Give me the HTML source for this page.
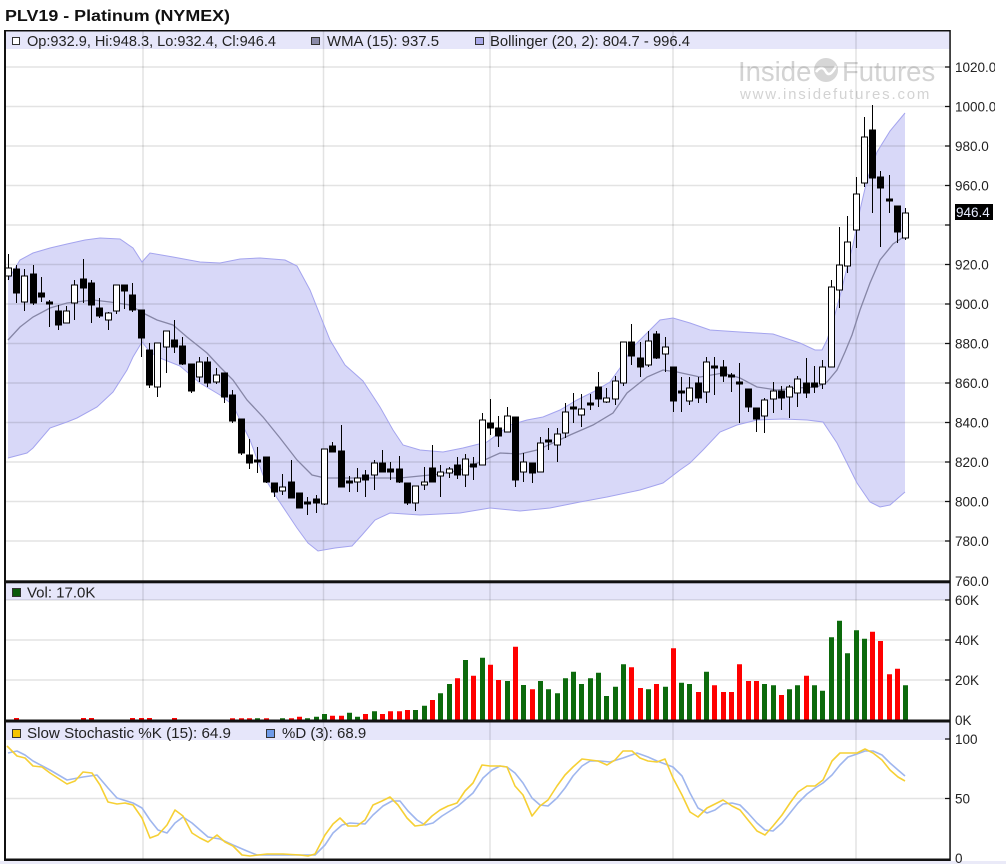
<!DOCTYPE html>
<html><head><meta charset="utf-8">
<style>
html,body{margin:0;padding:0;background:#fff;}
svg{display:block;font-family:"Liberation Sans",Arial,sans-serif;}
</style></head><body>
<svg width="1006" height="864" viewBox="0 0 1006 864" xmlns="http://www.w3.org/2000/svg">
<defs>
<clipPath id="lab"><rect x="940" y="0" width="55" height="864"/></clipPath>
</defs>
<rect width="1006" height="864" fill="#fff"/>
<text x="5" y="21" font-size="16" font-weight="bold" fill="#111" textLength="225" lengthAdjust="spacingAndGlyphs">PLV19 - Platinum (NYMEX)</text>

<!-- legend bands -->
<rect x="5" y="31" width="945" height="18" fill="#e6e6fa"/>
<rect x="5" y="583" width="945" height="17" fill="#e6e6fa"/>
<rect x="5" y="722" width="945" height="18" fill="#e6e6fa"/>
<rect x="0" y="861" width="1006" height="3" fill="#eaeaf8"/>

<!-- watermark -->
<g fill="#d3d3d3">
<text x="738" y="81" font-size="27.5">Inside</text>
<circle cx="826" cy="70" r="12" fill="#d6d6d6"/>
<path d="M816 72 Q822 64 826 72 Q830 78 836 66" stroke="#fff" stroke-width="2.5" fill="none"/>
<text x="842" y="81" font-size="27.5">Futures</text>
<text x="740" y="99" font-size="15" letter-spacing="1.8">www.insidefutures.com</text>
</g>

<!-- bollinger band -->
<polygon fill="#d8d8f8" points="8,280 20,260 33,253 50,248 67,244 85,240 100,238 120,239 133,248 142,262 150,253 173,257 200,262 220,263 240,259 260,258 285,260 297,266 310,290 330,340 345,365 363,381 380,407 393,430 403,445 420,450 443,452 463,448 487,442 510,425 527,420 543,417 560,410 577,400 593,392 610,382 620,368 633,347 647,333 660,320 673,318 690,323 710,330 740,332 773,334 800,343 815,350 822,350 827,340 832,325 840,296 847,268 853,245 860,210 867,180 877,152 890,131 905,113 905,492 890,505 880,507 870,502 857,483 847,463 837,443 823,422 807,420 783,419 757,420 737,425 720,432 703,450 690,463 680,470 663,483 640,490 607,497 580,502 550,508 520,511 490,508 460,513 420,515 390,513 375,520 362,535 352,546 335,548 318,551 308,543 297,528 287,513 275,495 263,475 250,440 240,420 233,405 220,395 200,383 180,366 160,358 150,352 142,342 133,357 127,370 113,392 97,407 77,418 67,422 50,428 33,448 27,453 8,458"/>

<!-- grid -->
<g stroke="#000" stroke-opacity="0.11" stroke-width="1.5" fill="none">
<path d="M5 67H950M5 106.5H950M5 146H950M5 185.5H950M5 225H950M5 264.5H950M5 304H950M5 343.5H950M5 383H950M5 422.5H950M5 462H950M5 501.5H950M5 541H950"/>
<path d="M5 640H950M5 680H950M5 600H950M5 798.5H950"/>
<path d="M143 31V859M323.5 31V859M490 31V859M673 31V859M856 31V859"/>
</g>

<!-- band edges -->
<polyline fill="none" stroke="#a4a4ee" stroke-width="1" points="8,280 20,260 33,253 50,248 67,244 85,240 100,238 120,239 133,248 142,262 150,253 173,257 200,262 220,263 240,259 260,258 285,260 297,266 310,290 330,340 345,365 363,381 380,407 393,430 403,445 420,450 443,452 463,448 487,442 510,425 527,420 543,417 560,410 577,400 593,392 610,382 620,368 633,347 647,333 660,320 673,318 690,323 710,330 740,332 773,334 800,343 815,350 822,350 827,340 832,325 840,296 847,268 853,245 860,210 867,180 877,152 890,131 905,113"/>
<polyline fill="none" stroke="#a4a4ee" stroke-width="1" points="905,492 890,505 880,507 870,502 857,483 847,463 837,443 823,422 807,420 783,419 757,420 737,425 720,432 703,450 690,463 680,470 663,483 640,490 607,497 580,502 550,508 520,511 490,508 460,513 420,515 390,513 375,520 362,535 352,546 335,548 318,551 308,543 297,528 287,513 275,495 263,475 250,440 240,420 233,405 220,395 200,383 180,366 160,358 150,352 142,342 133,357 127,370 113,392 97,407 77,418 67,422 50,428 33,448 27,453 8,458"/>
<!-- WMA -->
<polyline fill="none" stroke="#8686a6" stroke-width="1.3" points="8,340 20,327 33,317 50,308 67,303 93,300 110,302 130,305 143,313 157,320 173,325 187,337 207,353 220,367 233,380 247,400 263,417 280,438 297,460 312,475 325,478 360,478 400,478 440,474 460,470 480,462 500,453 520,454 537,450 553,443 570,435 593,425 613,413 627,393 647,377 663,370 677,372 700,377 723,373 740,378 757,387 777,390 797,388 817,387 827,382 837,370 845,352 852,335 860,310 870,283 880,260 893,244 905,236"/>

<!-- wicks -->
<path stroke="#000" stroke-width="1" fill="none" d="M8.5 254V280M16.5 265V303M24.5 269V311M33.5 265V305M41.5 277V302M49.5 300V327M58.5 305V330M66.5 306V323M74.5 280V320M83.5 259V303M91.5 280V323M99.5 298V318M108.5 312V330M116.5 285V314M124.5 285V309M132.5 283V312M141.5 310V357M149.5 343V388M157.5 343V397M166.5 331V373M174.5 320V353M182.5 337V365M191.5 364V393M199.5 357V382M207.5 357V387M216.5 368V384M224.5 373V403M232.5 390V423M241.5 419V455M249.5 439V469M257.5 447V473M266.5 457V483M274.5 483V497M282.5 474V495M291.5 460V498M299.5 493V508M307.5 497V515M316.5 495V513M324.5 449V505M332.5 442V452M341.5 425V487M349.5 476V492M357.5 468V492M365.5 470V497M374.5 460V490M382.5 450V472M390.5 462V480M399.5 456V483M407.5 483V505M415.5 486V511M424.5 467V490M432.5 445V482M440.5 465V497M449.5 467V478M457.5 457V479M465.5 454V487M473.5 457V480M482.5 413V465M490.5 399V435M498.5 416V447M507.5 407V432M515.5 417V487M523.5 453V482M532.5 463V483M540.5 437V472M548.5 428V450M557.5 428V462M565.5 403V438M573.5 393V423M581.5 394V427M590.5 394V410M598.5 372V407M606.5 388V403M615.5 376V405M623.5 342V386M631.5 324V365M640.5 342V377M648.5 331V367M656.5 331V359M665.5 337V372M673.5 367V412M681.5 377V412M689.5 377V405M698.5 377V403M706.5 357V403M714.5 357V395M723.5 360V382M731.5 373V392M739.5 363V423M748.5 389V412M756.5 408V432M764.5 398V433M773.5 382V413M781.5 386V410M789.5 385V418M797.5 376V407M806.5 358V398M814.5 366V393M822.5 360V389M831.5 280V367M839.5 227V308M847.5 216V273M856.5 177V248M864.5 117V187M872.5 105V213M880.5 171V247M889.5 175V213M897.5 206V243M905.5 208V240"/>
<!-- white bodies -->
<path fill="#fff" stroke="#000" stroke-width="1" d="M5.5 268h6V276h-6ZM21.5 276h6V302h-6ZM63.5 311h6V323h-6ZM71.5 285h6V303h-6ZM105.5 313h6V320h-6ZM113.5 285h6V311h-6ZM154.5 343h6V387h-6ZM163.5 331h6V347h-6ZM196.5 362h6V377h-6ZM213.5 375h6V382h-6ZM279.5 487h6V491h-6ZM321.5 449h6V504h-6ZM354.5 478h6V482h-6ZM371.5 463h6V475h-6ZM412.5 486h6V503h-6ZM421.5 482h6V485h-6ZM437.5 472h6V476h-6ZM446.5 469h6V473h-6ZM462.5 459h6V475h-6ZM479.5 420h6V465h-6ZM504.5 416h6V432h-6ZM520.5 462h6V472h-6ZM537.5 443h6V472h-6ZM554.5 434h6V445h-6ZM562.5 412h6V433h-6ZM578.5 409h6V415h-6ZM603.5 398h6V402h-6ZM612.5 381h6V399h-6ZM620.5 342h6V383h-6ZM645.5 341h6V365h-6ZM662.5 347h6V354h-6ZM686.5 388h6V401h-6ZM703.5 362h6V392h-6ZM761.5 400h6V416h-6ZM770.5 391h6V399h-6ZM786.5 387h6V397h-6ZM794.5 379h6V393h-6ZM819.5 367h6V384h-6ZM828.5 287h6V367h-6ZM836.5 265h6V290h-6ZM844.5 242h6V266h-6ZM853.5 194h6V230h-6ZM861.5 137h6V183h-6ZM902.5 213h6V238h-6Z"/>
<!-- black bodies -->
<path fill="#000" stroke="#000" stroke-width="1" d="M13.5 269h6V293h-6ZM30.5 274h6V303h-6ZM38.5 293h6V297h-6ZM46.5 302h6V304h-6ZM55.5 311h6V325h-6ZM80.5 279h6V288h-6ZM88.5 283h6V305h-6ZM96.5 308h6V316h-6ZM121.5 285h6V291h-6ZM129.5 295h6V310h-6ZM138.5 310h6V338h-6ZM146.5 350h6V385h-6ZM171.5 340h6V347h-6ZM179.5 346h6V364h-6ZM188.5 364h6V391h-6ZM204.5 362h6V383h-6ZM221.5 373h6V397h-6ZM229.5 395h6V421h-6ZM238.5 419h6V453h-6ZM246.5 455h6V463h-6ZM254.5 460h6V462h-6ZM263.5 457h6V482h-6ZM271.5 483h6V492h-6ZM288.5 482h6V498h-6ZM296.5 493h6V508h-6ZM304.5 502h6V504h-6ZM313.5 499h6V503h-6ZM329.5 446h6V452h-6ZM338.5 451h6V487h-6ZM346.5 481h6V483h-6ZM362.5 475h6V480h-6ZM379.5 463h6V472h-6ZM387.5 469h6V472h-6ZM396.5 469h6V482h-6ZM404.5 483h6V503h-6ZM429.5 468h6V482h-6ZM454.5 465h6V475h-6ZM470.5 464h6V467h-6ZM487.5 423h6V428h-6ZM495.5 428h6V436h-6ZM512.5 417h6V480h-6ZM529.5 463h6V473h-6ZM545.5 440h6V442h-6ZM570.5 407h6V409h-6ZM587.5 403h6V405h-6ZM595.5 387h6V399h-6ZM628.5 342h6V356h-6ZM637.5 358h6V367h-6ZM653.5 334h6V358h-6ZM670.5 367h6V401h-6ZM678.5 391h6V393h-6ZM695.5 383h6V398h-6ZM711.5 366h6V368h-6ZM720.5 367h6V376h-6ZM728.5 375h6V377h-6ZM736.5 382h6V384h-6ZM745.5 389h6V407h-6ZM753.5 408h6V419h-6ZM778.5 391h6V398h-6ZM803.5 383h6V393h-6ZM811.5 383h6V387h-6ZM869.5 130h6V178h-6ZM877.5 177h6V188h-6ZM886.5 199h6V201h-6ZM894.5 206h6V232h-6Z"/>

<!-- volume bars -->
<path fill="#0c6a0c" d="M255 720V718.3h5V720ZM280 720V718.3h5V720ZM305 720V718.3h5V720ZM314 720V716.7h5V720ZM322 720V714h5V720ZM347 720V712.7h5V720ZM355 720V716.7h5V720ZM372 720V711.3h5V720ZM413 720V710h5V720ZM422 720V705.7h5V720ZM438 720V693.3h5V720ZM447 720V684h5V720ZM463 720V660h5V720ZM480 720V657.7h5V720ZM505 720V681h5V720ZM521 720V685h5V720ZM538 720V681h5V720ZM546 720V689.3h5V720ZM555 720V693.3h5V720ZM563 720V678.3h5V720ZM571 720V671.7h5V720ZM579 720V684h5V720ZM588 720V678.3h5V720ZM596 720V672.7h5V720ZM604 720V696h5V720ZM613 720V686.7h5V720ZM621 720V664.3h5V720ZM646 720V689.3h5V720ZM663 720V686.7h5V720ZM679 720V682.7h5V720ZM687 720V684h5V720ZM704 720V671.7h5V720ZM762 720V684h5V720ZM771 720V685.3h5V720ZM787 720V689.3h5V720ZM795 720V685.3h5V720ZM812 720V685.3h5V720ZM820 720V690.7h5V720ZM829 720V637.3h5V720ZM837 720V620.7h5V720ZM845 720V653.3h5V720ZM854 720V630.3h5V720ZM862 720V638.7h5V720ZM903 720V685.3h5V720Z"/>
<path fill="#ff0000" d="M14 720V718h5V720ZM81 720V718h5V720ZM89 720V718h5V720ZM130 720V718h5V720ZM139 720V718h5V720ZM147 720V718h5V720ZM172 720V718h5V720ZM230 720V718.3h5V720ZM239 720V718.3h5V720ZM247 720V718.3h5V720ZM264 720V718.3h5V720ZM289 720V718.3h5V720ZM297 720V716.7h5V720ZM330 720V715.7h5V720ZM339 720V715.7h5V720ZM363 720V714h5V720ZM380 720V714h5V720ZM388 720V711.3h5V720ZM397 720V711.3h5V720ZM405 720V710h5V720ZM430 720V700h5V720ZM455 720V678.3h5V720ZM471 720V675.7h5V720ZM488 720V664.7h5V720ZM496 720V680h5V720ZM513 720V646.7h5V720ZM530 720V689.3h5V720ZM629 720V667.3h5V720ZM638 720V688h5V720ZM654 720V684h5V720ZM671 720V648.3h5V720ZM696 720V692h5V720ZM712 720V685.3h5V720ZM721 720V692h5V720ZM729 720V692h5V720ZM737 720V664.3h5V720ZM746 720V681h5V720ZM754 720V681h5V720ZM779 720V695h5V720ZM804 720V675.7h5V720ZM870 720V631.7h5V720ZM878 720V641h5V720ZM887 720V674.3h5V720ZM895 720V668.7h5V720Z"/>

<!-- stochastic -->
<polyline fill="none" stroke="#9fb6ee" stroke-width="1.6" stroke-linejoin="round" points="8,753 17,751 25,755 33,761 50,770 67,780 83,777 97,775 108,788 117,798 133,803 142,808 150,820 158,830 167,833 175,823 183,817 192,823 208,837 220,839 233,845 247,851 257,855 273,855 290,855 307,855 315,855 325,845 333,833 342,825 350,823 365,824 373,815 383,806 392,801 400,801 408,811 417,820 425,825 433,823 442,816 458,806 473,793 483,778 492,770 500,766 507,767 515,773 523,783 532,798 540,805 548,806 557,798 565,788 573,776 582,766 590,761 600,761 610,762 623,758 637,753 648,757 657,761 665,764 673,767 682,776 690,793 698,808 707,813 715,810 723,804 732,803 740,805 748,813 757,823 765,830 773,831 782,823 790,813 798,803 807,794 815,788 823,783 832,775 840,765 848,757 857,754 865,751 873,751 882,755 890,763 898,770 905,776"/>
<polyline fill="none" stroke="#f6d035" stroke-width="1.6" stroke-linejoin="round" points="7,746 17,756 25,758 33,766 42,767 50,773 67,784 75,781 83,772 92,773 100,785 108,802 117,804 125,803 133,805 142,818 150,838 158,835 167,825 175,810 183,816 192,833 200,838 208,842 217,835 225,842 233,846 242,855 250,856 258,855 267,854 283,854 300,855 308,856 315,854 325,835 333,824 340,818 348,826 357,826 365,820 373,805 382,801 390,797 398,805 407,818 415,826 423,825 432,816 440,810 448,806 457,803 465,791 473,783 482,765 490,766 500,766 507,767 515,786 523,795 532,816 540,806 548,800 557,786 565,775 573,767 582,759 590,760 598,761 607,765 615,760 623,751 632,751 640,758 648,761 657,762 665,759 673,778 682,795 690,812 698,817 707,808 715,804 723,800 732,806 740,810 748,820 757,831 765,835 773,826 782,815 790,803 798,792 807,786 815,786 823,780 832,761 840,753 848,753 857,753 865,749 873,753 882,760 890,770 898,777 905,781"/>

<!-- borders -->
<g fill="#111">
<rect x="5" y="30" width="945" height="1.5"/>
<rect x="4" y="30" width="2" height="831"/>
<rect x="4" y="580.3" width="946" height="3"/>
<rect x="4" y="719.5" width="946" height="3"/>
<rect x="4" y="858.5" width="946" height="2.5"/>
<rect x="949.3" y="30" width="1.5" height="831"/>
</g>
<!-- ticks -->
<path stroke="#111" stroke-width="1.2" d="M945 67H950M945 106.5H950M945 146H950M945 185.5H950M945 225H950M945 264.5H950M945 304H950M945 343.5H950M945 383H950M945 422.5H950M945 462H950M945 501.5H950M945 541H950M945 600H950M945 640H950M945 680H950M945 739H950M945 798.5H950"/>

<!-- axis labels -->
<g font-size="13.5" fill="#222" clip-path="url(#lab)">
<text x="955" y="72">1020.0</text>
<text x="955" y="111.5">1000.0</text>
<text x="955" y="151">980.0</text>
<text x="955" y="190.5">960.0</text>
<text x="955" y="269.5">920.0</text>
<text x="955" y="309">900.0</text>
<text x="955" y="348.5">880.0</text>
<text x="955" y="388">860.0</text>
<text x="955" y="427.5">840.0</text>
<text x="955" y="467">820.0</text>
<text x="955" y="506.5">800.0</text>
<text x="955" y="546">780.0</text>
<text x="955" y="586">760.0</text>
<text x="955" y="605">60K</text>
<text x="955" y="645">40K</text>
<text x="955" y="685">20K</text>
<text x="955" y="725">0K</text>
<text x="955" y="744">100</text>
<text x="955" y="803.5">50</text>
<text x="955" y="863">0</text>
</g>
<rect x="955" y="204" width="38" height="16" fill="#000"/>
<text x="956" y="217" font-size="13.5" fill="#e6ecff">946.4</text>

<!-- legends -->
<g stroke="#333" stroke-width="1">
<rect x="12.5" y="37.5" width="7" height="7" fill="#fff"/>
<rect x="311.5" y="37.5" width="8" height="7" fill="#8a8aa8"/>
<rect x="475.5" y="37.5" width="8" height="7" fill="#a8a8e8"/>
<rect x="12.5" y="588.5" width="8" height="8" fill="#0a5a0a"/>
<rect x="12.5" y="729.5" width="8" height="8" fill="#f5c400"/>
<rect x="266.5" y="729.5" width="8" height="8" fill="#6f9be8"/>
</g>
<g font-size="15" fill="#222">
<text x="27" y="46" textLength="249" lengthAdjust="spacingAndGlyphs">Op:932.9, Hi:948.3, Lo:932.4, Cl:946.4</text>
<text x="327" y="46" textLength="112" lengthAdjust="spacingAndGlyphs">WMA (15): 937.5</text>
<text x="490" y="46" textLength="200" lengthAdjust="spacingAndGlyphs">Bollinger (20, 2): 804.7 - 996.4</text>
<text x="27" y="597.5">Vol: 17.0K</text>
<text x="27" y="738" textLength="204" lengthAdjust="spacingAndGlyphs">Slow Stochastic %K (15): 64.9</text>
<text x="282" y="738">%D (3): 68.9</text>
</g>
</svg>
</body></html>
